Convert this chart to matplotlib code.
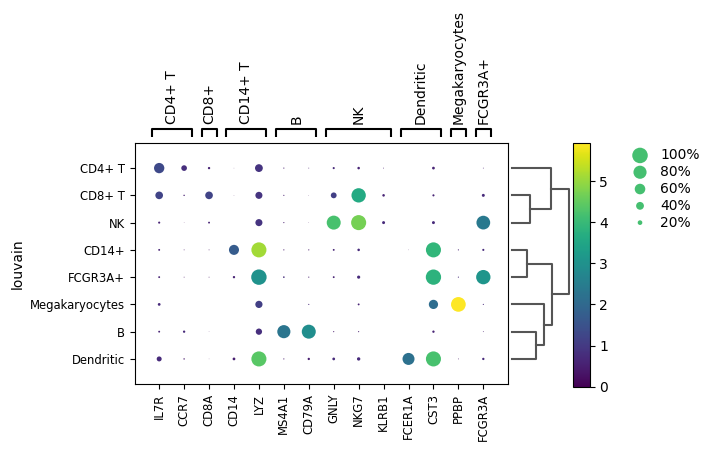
import matplotlib
matplotlib.use("Agg")
import matplotlib.pyplot as plt
import matplotlib.transforms as mtransforms
import numpy as np

genes = ["IL7R", "CCR7", "CD8A", "CD14", "LYZ", "MS4A1", "CD79A",
         "GNLY", "NKG7", "KLRB1", "FCER1A", "CST3", "PPBP", "FCGR3A"]
groups = ["CD4+ T", "CD8+ T", "NK", "CD14+", "FCGR3A+",
          "Megakaryocytes", "B", "Dendritic"]

# gene group brackets: (label, first gene index, last gene index)
group_labels = ["CD4+ T", "CD8+", "CD14+ T", "B", "NK", "Dendritic",
                "Megakaryocytes", "FCGR3A+"]
group_start = [0, 2, 3, 5, 7, 10, 12, 13]
group_end = [1, 2, 4, 6, 9, 11, 12, 13]

# fraction of cells expressing (rows = groups, cols = genes)
frac = np.array([
    [0.58, 0.26, 0.08, 0.01, 0.40, 0.03, 0.02, 0.07, 0.09, 0.02, 0.00, 0.10, 0.00, 0.02],
    [0.39, 0.04, 0.39, 0.01, 0.35, 0.03, 0.01, 0.27, 0.90, 0.09, 0.00, 0.07, 0.00, 0.11],
    [0.07, 0.01, 0.06, 0.00, 0.35, 0.03, 0.01, 0.87, 0.96, 0.11, 0.00, 0.11, 0.00, 0.85],
    [0.06, 0.02, 0.02, 0.56, 0.96, 0.03, 0.03, 0.06, 0.09, 0.00, 0.01, 0.96, 0.03, 0.07],
    [0.06, 0.02, 0.02, 0.08, 0.99, 0.05, 0.03, 0.06, 0.12, 0.00, 0.00, 0.98, 0.03, 0.90],
    [0.10, 0.00, 0.00, 0.00, 0.36, 0.00, 0.03, 0.00, 0.06, 0.00, 0.00, 0.50, 0.93, 0.03],
    [0.06, 0.08, 0.01, 0.00, 0.30, 0.80, 0.87, 0.03, 0.03, 0.00, 0.00, 0.08, 0.00, 0.02],
    [0.22, 0.04, 0.01, 0.10, 0.96, 0.03, 0.08, 0.10, 0.13, 0.00, 0.71, 0.96, 0.02, 0.08],
])

# mean expression in group
mean_expr = np.array([
    [1.3, 0.8, 0.6, 0.3, 0.9, 0.5, 0.5, 0.7, 0.6, 0.4, 0.2, 0.6, 0.1, 0.5],
    [1.2, 0.5, 1.2, 0.2, 0.9, 0.5, 0.3, 1.1, 3.6, 0.6, 0.1, 0.6, 0.1, 0.7],
    [0.6, 0.2, 0.6, 0.1, 0.9, 0.5, 0.3, 4.2, 4.7, 0.7, 0.1, 0.7, 0.1, 2.4],
    [0.6, 0.3, 0.3, 1.7, 5.1, 0.4, 0.4, 0.6, 0.7, 0.1, 0.2, 3.9, 0.6, 0.7],
    [0.6, 0.3, 0.3, 0.6, 3.0, 0.8, 0.5, 0.6, 0.7, 0.1, 0.1, 3.8, 0.7, 3.1],
    [0.7, 0.1, 0.1, 0.1, 1.1, 0.1, 0.7, 0.3, 0.6, 0.1, 0.1, 2.1, 5.93, 0.7],
    [0.6, 0.7, 0.3, 0.1, 0.8, 2.3, 2.9, 0.4, 0.5, 0.1, 0.1, 0.6, 0.2, 0.5],
    [0.7, 0.4, 0.3, 0.5, 4.4, 0.4, 0.5, 0.7, 0.7, 0.1, 2.2, 4.2, 0.3, 0.7],
])

# dendrogram merges (scipy-like): left node, right node, height
# leaves 0..7 follow the row order above, new nodes numbered from 8
dendro_merges = [
    (1, 2, 0.316),
    (3, 4, 0.263),
    (6, 7, 0.421),
    (5, 10, 0.561),
    (0, 8, 0.684),
    (9, 11, 0.702),
    (12, 13, 0.995),
]

legend_fracs = [1.0, 0.8, 0.6, 0.4, 0.2]
legend_labels = ["100%", "80%", "60%", "40%", "20%"]

LARGEST_DOT = 125
SIZE_EXP = 1.5

fig = plt.figure(figsize=(7.09, 4.53), dpi=100)

# main dot plot
ax = fig.add_axes([0.1904, 0.1523, 0.5261, 0.532])
yy, xx = np.meshgrid(np.arange(len(groups)), np.arange(len(genes)), indexing="ij")
mask = frac.ravel() > 0
sizes = (frac.ravel() ** SIZE_EXP) * LARGEST_DOT
sc = ax.scatter(xx.ravel()[mask], yy.ravel()[mask], s=sizes[mask],
                c=mean_expr.ravel()[mask], cmap="viridis",
                vmin=0, vmax=mean_expr.max(), linewidths=0, zorder=3)
ax.set_xlim(-0.97, len(genes) - 1 + 0.99)
ax.set_ylim(len(groups) - 1 + 0.92, -0.92)
ax.set_xticks(np.arange(len(genes)))
ax.set_xticklabels(genes, rotation=90, fontsize="small")
ax.set_yticks(np.arange(len(groups)))
ax.set_yticklabels(groups, fontsize="small")
ax.set_ylabel("louvain")

# gene group brackets above the plot
trans = mtransforms.blended_transform_factory(ax.transData, ax.transAxes)
for label, g0, g1 in zip(group_labels, group_start, group_end):
    x0, x1 = g0 - 0.3, g1 + 0.3
    ax.plot([x0, x0, x1, x1], [1.025, 1.058, 1.058, 1.025], color="black",
            lw=1.5, transform=trans, clip_on=False, solid_capstyle="butt")
    ax.text((g0 + g1) / 2, 1.079, label, rotation=90, ha="center", va="bottom",
            fontsize=10, transform=trans)

# dendrogram on the right
dax = fig.add_axes([0.7221, 0.1523, 0.0804, 0.532])
node_y = {i: float(i) for i in range(len(groups))}
node_h = {i: 0.0 for i in range(len(groups))}
next_id = len(groups)
for left, right, h in dendro_merges:
    yl, yr = node_y[left], node_y[right]
    dax.plot([node_h[left], h, h, node_h[right]], [yl, yl, yr, yr],
             color="#555555", lw=1.5, clip_on=False)
    node_y[next_id] = (yl + yr) / 2
    node_h[next_id] = h
    next_id += 1
dax.set_xlim(0, 1)
dax.set_ylim(ax.get_ylim())
dax.axis("off")

# colorbar
cax = fig.add_axes([0.8082, 0.1464, 0.0233, 0.538])
cb = fig.colorbar(sc, cax=cax)
cb.set_ticks([0, 1, 2, 3, 4, 5])
cb.outline.set_linewidth(0.8)

# size legend
lax = fig.add_axes([0.8745, 0.490, 0.1128, 0.1854])
lax.scatter([0.25] * len(legend_fracs), np.arange(len(legend_fracs)) + 0.5,
            s=np.array(legend_fracs) ** SIZE_EXP * LARGEST_DOT,
            color="#45bf70", linewidths=0)
for i, lab in enumerate(legend_labels):
    lax.text(0.5, i + 0.5, lab, va="center", ha="left", fontsize=10)
lax.set_xlim(0, 1)
lax.set_ylim(len(legend_fracs), 0)
lax.axis("off")

plt.savefig("out.png", dpi=100)
plt.close()
